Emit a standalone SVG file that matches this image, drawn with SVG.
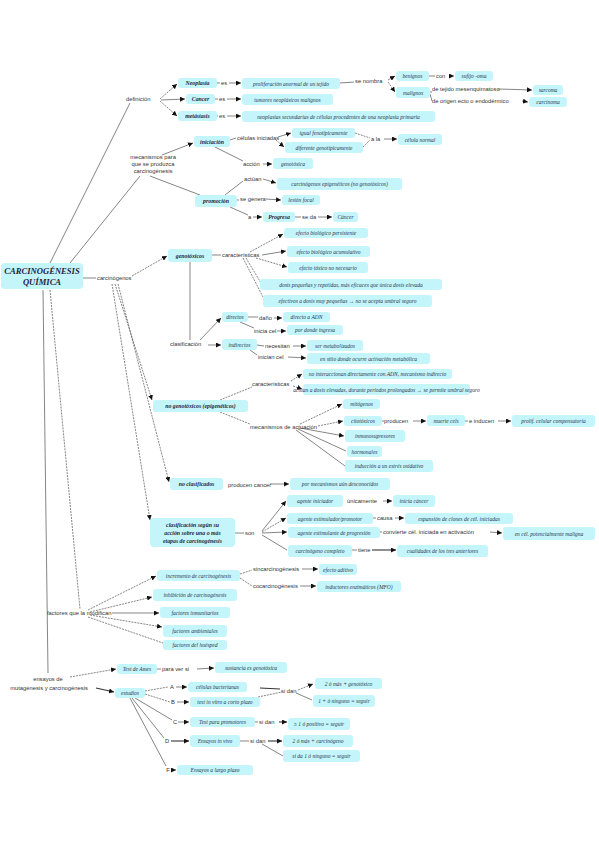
<svg xmlns="http://www.w3.org/2000/svg" width="599" height="848" viewBox="0 0 599 848">
<style>
.bg{fill:#ffffff}
.n rect{fill:#c4f5fb;stroke:none}
.t{font-family:"Liberation Serif",serif;font-style:italic;font-size:5.5px;fill:#2a3550;text-anchor:middle}
.b{font-family:"Liberation Serif",serif;font-style:italic;font-weight:bold;font-size:5.8px;fill:#1d2540;text-anchor:middle}
.m{font-family:"Liberation Serif",serif;font-style:italic;font-weight:bold;font-size:8.6px;fill:#1d2540;text-anchor:middle}
.l{font-family:"Liberation Sans",sans-serif;font-size:5.8px;fill:#333}
.lc{font-family:"Liberation Sans",sans-serif;font-size:5.8px;fill:#333;text-anchor:middle}
.c path{fill:none;stroke:#333;stroke-width:0.6}
.c .d{stroke-dasharray:2 1}
.c .k{stroke-width:1.1}
</style>
<defs>
<marker id="a" viewBox="0 0 6 6" refX="6" refY="3" markerWidth="5" markerHeight="5" markerUnits="userSpaceOnUse" orient="auto"><path d="M0,0 L6,3 L0,6 z" fill="#111"/></marker>
</defs>
<rect class="bg" width="599" height="848"/>

<g id="connectors" class="c">
<path d="M50,263 L130,103"/>
<path d="M70,263 L140,176"/>
<path d="M83,278 L96,278"/>
<path class="d" d="M50,290 L80,609"/>
<path d="M43,290 L48,673"/>
<path class="d" d="M160,99 L177,84" marker-end="url(#a)"/>
<path d="M161,100 L185,99" marker-end="url(#a)"/>
<path class="d" d="M160,101 L177,116" marker-end="url(#a)"/>
<path d="M217,83 L220,83"/><path d="M229,83 L241,83" marker-end="url(#a)"/>
<path d="M215,99 L218,99"/><path d="M227,99 L241,99" marker-end="url(#a)"/>
<path d="M217,116 L218,116"/><path d="M227,116 L241,116" marker-end="url(#a)"/>
<path d="M340,83 L354,82"/>
<path d="M388,80 L395,76" marker-end="url(#a)"/>
<path class="d" d="M388,82 L395,92" marker-end="url(#a)"/>
<path d="M429,76 L435,76"/><path d="M449,76 L454,76" marker-end="url(#a)"/>
<path d="M430,92 L432,92"/><path d="M498,89 L532,90" marker-end="url(#a)"/>
<path d="M430,94 L432,101"/><path d="M522,101 L528,102" marker-end="url(#a)"/>
<path d="M162,155 L193,143" marker-end="url(#a)"/>
<path d="M230,140 L236,138"/>
<path d="M278,137 L291,133" marker-end="url(#a)"/>
<path class="d" d="M276,140 L284,147" marker-end="url(#a)"/>
<path class="d" d="M355,133 L370,138"/>
<path class="d" d="M363,147 L370,140"/>
<path d="M384,139 L397,139" marker-end="url(#a)"/>
<path d="M215,147 L243,161"/>
<path d="M263,164 L272,164" marker-end="url(#a)"/>
<path d="M150,176 L200,195"/>
<path d="M225,195 L243,181"/>
<path d="M263,179 L276,183" marker-end="url(#a)"/>
<path d="M237,200 L239,200"/><path d="M266,199 L281,200" marker-end="url(#a)"/>
<path d="M230,207 L248,215"/>
<path d="M253,217 L262,217" marker-end="url(#a)"/>
<path d="M295,217 L301,217"/><path d="M318,217 L332,217" marker-end="url(#a)"/>
<path class="d" d="M132,276 L167,256" marker-end="url(#a)"/>
<path class="d" d="M115,284 L152,400" marker-end="url(#a)"/>
<path class="d" d="M118,284 L169,482" marker-end="url(#a)"/>
<path class="d" d="M112,284 L150,520" marker-end="url(#a)"/>
<path d="M212,255 L221,255"/>
<path class="d" d="M250,252 L283,234" marker-end="url(#a)"/>
<path d="M262,255 L286,251" marker-end="url(#a)"/>
<path class="d" d="M256,258 L287,267" marker-end="url(#a)"/>
<path class="d" d="M246,258 L261,283"/>
<path class="d" d="M243,258 L264,299"/>
<path d="M190,262 L190,340"/>
<path d="M200,340 L221,318" marker-end="url(#a)"/>
<path d="M208,345 L221,345" marker-end="url(#a)"/>
<path d="M248,317 L258,317"/><path d="M274,318 L282,318" marker-end="url(#a)"/>
<path d="M240,322 L254,328"/><path d="M277,331 L286,331" marker-end="url(#a)"/>
<path d="M257,345 L264,346"/><path d="M293,346 L306,346" marker-end="url(#a)"/>
<path d="M250,350 L257,355"/><path d="M288,357 L306,358" marker-end="url(#a)"/>
<path class="d" d="M220,400 L252,387"/>
<path class="d" d="M291,381 L302,374" marker-end="url(#a)"/>
<path class="d" d="M293,386 L302,389" marker-end="url(#a)"/>
<path class="d" d="M220,412 L250,424"/>
<path class="d" d="M300,424 L342,404" marker-end="url(#a)"/>
<path class="d" d="M318,426 L343,421" marker-end="url(#a)"/>
<path d="M300,428 L344,436" marker-end="url(#a)"/>
<path d="M298,429 L346,451"/>
<path d="M296,430 L345,466"/>
<path d="M382,421 L384,421"/><path d="M413,421 L426,421" marker-end="url(#a)"/>
<path d="M465,421 L468,421"/><path d="M498,421 L511,421" marker-end="url(#a)"/>
<path d="M270,484 L289,484" marker-end="url(#a)"/>
<path d="M235,533 L244,533"/>
<path d="M262,531 L286,501" marker-end="url(#a)"/>
<path class="d" d="M262,532 L286,518" marker-end="url(#a)"/>
<path d="M262,533 L287,532" marker-end="url(#a)"/>
<path d="M262,535 L287,550"/>
<path d="M383,501 L392,501" marker-end="url(#a)"/>
<path d="M373,518 L376,518"/><path d="M395,518 L404,518" marker-end="url(#a)"/>
<path d="M380,532 L382,532"/><path d="M490,532 L502,533" marker-end="url(#a)"/>
<path d="M352,550 L357,550"/><path class="k" d="M372,550 L396,550" marker-end="url(#a)"/>
<path class="d" d="M88,610 L156,576" marker-end="url(#a)"/>
<path class="d" d="M90,612 L152,597" marker-end="url(#a)"/>
<path d="M112,613 L159,613" marker-end="url(#a)"/>
<path class="d" d="M90,615 L162,627" marker-end="url(#a)"/>
<path class="d" d="M88,617 L163,643"/>
<path class="d" d="M240,574 L252,570"/><path d="M302,569 L318,569" marker-end="url(#a)"/>
<path class="d" d="M240,578 L252,586"/><path d="M300,586 L316,586" marker-end="url(#a)"/>
<path class="d" d="M70,677 L116,669" marker-end="url(#a)"/>
<path d="M157,669 L161,669"/><path d="M197,669 L214,668" marker-end="url(#a)"/>
<path class="k" d="M96,688 L114,692" marker-end="url(#a)"/>
<path class="d" d="M145,691 L168,687"/><path d="M176,687 L187,687" marker-end="url(#a)"/>
<path class="d" d="M145,694 L170,702"/><path d="M177,702 L189,702" marker-end="url(#a)"/>
<path d="M135,698 L172,720"/><path d="M178,722 L189,722" marker-end="url(#a)"/>
<path d="M132,698 L164,738"/><path class="k" d="M171,741 L189,741" marker-end="url(#a)"/>
<path d="M130,698 L166,766"/><path d="M172,770 L176,770" marker-end="url(#a)"/>
<path class="k" d="M260,688 L280,689"/>
<path class="d" d="M258,697 L282,692"/>
<path class="d" d="M298,690 L313,684" marker-end="url(#a)"/>
<path d="M296,693 L312,700"/>
<path d="M255,722 L258,722"/><path class="k" d="M279,722 L287,722" marker-end="url(#a)"/>
<path d="M240,741 L249,741"/><path class="k" d="M268,741 L282,741" marker-end="url(#a)"/>
<path d="M262,744 L283,756"/>
</g>

<g id="labels">
<text class="l" x="126" y="101">definición</text>
<text class="lc" x="224" y="85">es</text>
<text class="lc" x="222" y="101">es</text>
<text class="lc" x="222" y="118">es</text>
<text class="l" x="355" y="83">se nombra</text>
<text class="l" x="436" y="78">con</text>
<text class="l" x="432" y="91">de tejido mesenquimatoso</text>
<text class="l" x="432" y="103">de origen ecto o endodérmico</text>
<text class="lc" x="153" y="159">mecanismos para</text>
<text class="lc" x="153" y="166">que se produzca</text>
<text class="lc" x="153" y="173">carcinogénesis</text>
<text class="l" x="237" y="140">células iniciadas</text>
<text class="l" x="371" y="141">a la</text>
<text class="l" x="243" y="166">acción</text>
<text class="l" x="244" y="181">actúan</text>
<text class="l" x="240" y="201">se genera</text>
<text class="l" x="248" y="219">a</text>
<text class="l" x="302" y="219">se da</text>
<text class="l" x="97" y="280">carcinógenos</text>
<text class="l" x="222" y="257">características</text>
<text class="l" x="170" y="346">clasificación</text>
<text class="l" x="259" y="320">daño</text>
<text class="l" x="254" y="333">inicia cel</text>
<text class="l" x="265" y="348">necesitan</text>
<text class="l" x="258" y="359">inician cel</text>
<text class="l" x="252" y="386">características</text>
<text class="l" x="250" y="429">mecanismos de actuación</text>
<text class="l" x="384" y="423">producen</text>
<text class="l" x="469" y="423">e inducen</text>
<text class="l" x="228" y="487">producen cancer</text>
<text class="l" x="245" y="535">son</text>
<text class="l" x="347" y="503">únicamente</text>
<text class="l" x="377" y="520">causa</text>
<text class="l" x="383" y="534">convierte cél. iniciada en activación</text>
<text class="l" x="358" y="552">tiene</text>
<text class="l" x="47" y="615">factores que la modifican</text>
<text class="l" x="253" y="571">sincarcinogénesis</text>
<text class="l" x="253" y="588">cocarcinogénesis</text>
<text class="lc" x="48" y="681">ensayos de</text>
<text class="lc" x="49" y="690">mutagénesis y carcinogénesis</text>
<text class="l" x="162" y="671">para ver si</text>
<text class="lc" x="172" y="689">A</text>
<text class="lc" x="173" y="704">B</text>
<text class="lc" x="175" y="724">C</text>
<text class="lc" x="167" y="743">D</text>
<text class="lc" x="168" y="772">F</text>
<text class="l" x="281" y="693">si dan</text>
<text class="l" x="259" y="724">si dan</text>
<text class="l" x="250" y="743">si dan</text>
</g>

<g id="main" class="n"><rect x="1" y="263" width="82" height="26" rx="4"/><text class="m" x="42" y="274">CARCINOGÉNESIS</text><text class="m" x="42" y="285">QUÍMICA</text></g>

<g id="n1" class="n"><rect x="178" y="78" width="39" height="10" rx="3"/><text class="b" x="197.5" y="85">Neoplasia</text></g>
<g id="n2" class="n"><rect x="242" y="78" width="98" height="11" rx="3"/><text class="t" x="291" y="85.5">proliferación anormal de un tejido</text></g>
<g id="n3" class="n"><rect x="186" y="94" width="29" height="10" rx="3"/><text class="b" x="200.5" y="101">Cancer</text></g>
<g id="n4" class="n"><rect x="242" y="94" width="91" height="11" rx="3"/><text class="t" x="287.5" y="101.5">tumores neoplásicos malignos</text></g>
<g id="n5" class="n"><rect x="178" y="111" width="39" height="10" rx="3"/><text class="b" x="197.5" y="118">metástasis</text></g>
<g id="n6" class="n"><rect x="242" y="111" width="193" height="11" rx="3"/><text class="t" x="338.5" y="118.5">neoplasias secundarias de células procedentes de una neoplasia primaria</text></g>
<g id="n7" class="n"><rect x="396" y="71" width="33" height="10" rx="3"/><text class="t" x="412.5" y="78">benignos</text></g>
<g id="n8" class="n"><rect x="455" y="71" width="38" height="10" rx="3"/><text class="t" x="474" y="78">sufijo -oma</text></g>
<g id="n9" class="n"><rect x="396" y="87" width="34" height="11" rx="3"/><text class="t" x="413" y="94.5">malignos</text></g>
<g id="n10" class="n"><rect x="533" y="85" width="30" height="10" rx="3"/><text class="t" x="548" y="92">sarcoma</text></g>
<g id="n11" class="n"><rect x="529" y="97" width="38" height="10" rx="3"/><text class="t" x="548" y="104">carcinoma</text></g>

<g id="n12" class="n"><rect x="194" y="136" width="36" height="11" rx="3"/><text class="b" x="212" y="143.5">iniciación</text></g>
<g id="n13" class="n"><rect x="292" y="128" width="63" height="10" rx="3"/><text class="t" x="323.5" y="135">igual fenotípicamente</text></g>
<g id="n14" class="n"><rect x="285" y="142" width="78" height="11" rx="3"/><text class="t" x="324" y="149.5">diferente genotípicamente</text></g>
<g id="n15" class="n"><rect x="398" y="134" width="44" height="11" rx="3"/><text class="t" x="420" y="141.5">célula normal</text></g>
<g id="n16" class="n"><rect x="273" y="158" width="40" height="11" rx="3"/><text class="t" x="293" y="165.5">genotóxica</text></g>
<g id="n17" class="n"><rect x="195" y="195" width="42" height="12" rx="3"/><text class="b" x="216" y="203">promoción</text></g>
<g id="n18" class="n"><rect x="277" y="178" width="125" height="12" rx="3"/><text class="t" x="339.5" y="186">carcinógenos epigenéticos (no genotóxicos)</text></g>
<g id="n19" class="n"><rect x="282" y="195" width="38" height="10" rx="3"/><text class="t" x="301" y="202">lesión focal</text></g>
<g id="n20" class="n"><rect x="263" y="212" width="32" height="10" rx="3"/><text class="b" x="279" y="219">Progresa</text></g>
<g id="n21" class="n"><rect x="333" y="212" width="25" height="10" rx="3"/><text class="t" x="345.5" y="219">Cáncer</text></g>

<g id="n22" class="n"><rect x="168" y="249" width="44" height="13" rx="3"/><text class="b" x="190" y="257.5">genotóxicos</text></g>
<g id="n23" class="n"><rect x="284" y="228" width="84" height="10" rx="3"/><text class="t" x="326" y="235">efecto biológico persistente</text></g>
<g id="n24" class="n"><rect x="287" y="246" width="83" height="11" rx="3"/><text class="t" x="328.5" y="253.5">efecto biológico acumulativo</text></g>
<g id="n25" class="n"><rect x="288" y="262" width="80" height="11" rx="3"/><text class="t" x="328" y="269.5">efecto tóxico no necesario</text></g>
<g id="n26" class="n"><rect x="260" y="279" width="182" height="11" rx="3"/><text class="t" x="351" y="286.5">dosis pequeñas y repetidas, más eficaces que única dosis elevada</text></g>
<g id="n27" class="n"><rect x="263" y="295" width="169" height="12" rx="3"/><text class="t" x="347.5" y="303">efectivos a dosis muy pequeñas → no se acepta umbral seguro</text></g>
<g id="n28" class="n"><rect x="222" y="312" width="26" height="10" rx="3"/><text class="t" x="235" y="319">directos</text></g>
<g id="n29" class="n"><rect x="222" y="339" width="35" height="11" rx="3"/><text class="t" x="239.5" y="346.5">indirectos</text></g>
<g id="n30" class="n"><rect x="283" y="312" width="47" height="10" rx="3"/><text class="t" x="306.5" y="319">directo a ADN</text></g>
<g id="n31" class="n"><rect x="287" y="325" width="56" height="10" rx="3"/><text class="t" x="315" y="332">por donde ingresa</text></g>
<g id="n32" class="n"><rect x="307" y="340" width="56" height="11" rx="3"/><text class="t" x="335" y="347.5">ser metabolizados</text></g>
<g id="n33" class="n"><rect x="307" y="353" width="123" height="11" rx="3"/><text class="t" x="368.5" y="360.5">en sitio donde ocurre activación metabólica</text></g>

<g id="n34" class="n"><rect x="153" y="400" width="95" height="12" rx="3"/><text class="b" x="200.5" y="408">no genotóxicos (epigenéticos)</text></g>
<g id="n35" class="n"><rect x="303" y="369" width="149" height="10" rx="3"/><text class="t" x="377.5" y="376">no interaccionan directamente con ADN, mecanismo indirecto</text></g>
<g id="n36" class="n"><rect x="303" y="384" width="167" height="11" rx="3"/><text class="t" x="386.5" y="391.5">actúan a dosis elevadas, durante períodos prolongados → se permite umbral seguro</text></g>
<g id="n37" class="n"><rect x="343" y="399" width="37" height="10" rx="3"/><text class="t" x="361.5" y="406">mitógenos</text></g>
<g id="n38" class="n"><rect x="344" y="416" width="38" height="10" rx="3"/><text class="t" x="363" y="423">citotóxicos</text></g>
<g id="n39" class="n"><rect x="427" y="415" width="38" height="11" rx="3"/><text class="t" x="446" y="422.5">muerte cels</text></g>
<g id="n40" class="n"><rect x="512" y="415" width="83" height="12" rx="3"/><text class="t" x="553.5" y="423">prolif. celular compensatoria</text></g>
<g id="n41" class="n"><rect x="345" y="430" width="60" height="12" rx="3"/><text class="t" x="375" y="438">inmunosupresores</text></g>
<g id="n42" class="n"><rect x="347" y="446" width="35" height="11" rx="3"/><text class="t" x="364.5" y="453.5">hormonales</text></g>
<g id="n43" class="n"><rect x="345" y="460" width="88" height="12" rx="3"/><text class="t" x="389" y="468">inducción a un estrés oxidativo</text></g>

<g id="n44" class="n"><rect x="170" y="478" width="53" height="12" rx="3"/><text class="b" x="196.5" y="486">no clasificados</text></g>
<g id="n45" class="n"><rect x="290" y="478" width="100" height="12" rx="3"/><text class="t" x="340" y="486">por mecanismos aún desconocidos</text></g>

<g id="n46" class="n"><rect x="150" y="518" width="85" height="29" rx="4"/><text class="b" x="192.5" y="527">clasificación según su</text><text class="b" x="192.5" y="535">acción sobre una o más</text><text class="b" x="192.5" y="543">etapas de carcinogénesis</text></g>
<g id="n47" class="n"><rect x="287" y="495" width="56" height="12" rx="3"/><text class="t" x="315" y="503">agente iniciador</text></g>
<g id="n48" class="n"><rect x="393" y="495" width="42" height="12" rx="3"/><text class="t" x="414" y="503">inicia cáncer</text></g>
<g id="n49" class="n"><rect x="287" y="513" width="86" height="11" rx="3"/><text class="t" x="330" y="520.5">agente estimulador/promotor</text></g>
<g id="n50" class="n"><rect x="405" y="513" width="108" height="11" rx="3"/><text class="t" x="459" y="520.5">expansión de clones de cél. iniciadas</text></g>
<g id="n51" class="n"><rect x="288" y="527" width="92" height="11" rx="3"/><text class="t" x="334" y="534.5">agente estimulante de progresión</text></g>
<g id="n52" class="n"><rect x="503" y="527" width="92" height="13" rx="3"/><text class="t" x="549" y="535.5">en cél. potencialmente maligna</text></g>
<g id="n53" class="n"><rect x="288" y="545" width="64" height="12" rx="3"/><text class="t" x="320" y="553">carcinógeno completo</text></g>
<g id="n54" class="n"><rect x="397" y="545" width="91" height="12" rx="3"/><text class="t" x="442.5" y="553">cualidades de los tres anteriores</text></g>

<g id="n55" class="n"><rect x="157" y="570" width="83" height="11" rx="3"/><text class="t" x="198.5" y="577.5">incremento de carcinogénesis</text></g>
<g id="n56" class="n"><rect x="319" y="564" width="38" height="11" rx="3"/><text class="t" x="338" y="571.5">efecto aditivo</text></g>
<g id="n57" class="n"><rect x="317" y="581" width="84" height="11" rx="3"/><text class="t" x="359" y="588.5">inductores enzimáticos (MFO)</text></g>
<g id="n58" class="n"><rect x="153" y="589" width="84" height="12" rx="3"/><text class="t" x="195" y="597">inhibición de carcinogénesis</text></g>
<g id="n59" class="n"><rect x="160" y="607" width="70" height="11" rx="3"/><text class="t" x="195" y="614.5">factores inmunitarios</text></g>
<g id="n60" class="n"><rect x="163" y="625" width="64" height="12" rx="3"/><text class="t" x="195" y="633">factores ambientales</text></g>
<g id="n61" class="n"><rect x="163" y="640" width="64" height="10" rx="3"/><text class="t" x="195" y="647">factores del huésped</text></g>

<g id="n62" class="n"><rect x="117" y="664" width="40" height="10" rx="3"/><text class="t" x="137" y="671">Test de Ames</text></g>
<g id="n63" class="n"><rect x="215" y="662" width="72" height="11" rx="3"/><text class="t" x="251" y="669.5">sustancia es genotóxica</text></g>
<g id="n64" class="n"><rect x="115" y="688" width="30" height="10" rx="3"/><text class="t" x="130" y="695">estudios</text></g>
<g id="n65" class="n"><rect x="188" y="682" width="59" height="10" rx="3"/><text class="t" x="217.5" y="689">células bacterianas</text></g>
<g id="n66" class="n"><rect x="190" y="697" width="70" height="10" rx="3"/><text class="t" x="225" y="704">test in vitro a corto plazo</text></g>
<g id="n67" class="n"><rect x="190" y="717" width="65" height="10" rx="3"/><text class="t" x="222.5" y="724">Test para promotores</text></g>
<g id="n68" class="n"><rect x="190" y="735" width="50" height="12" rx="3"/><text class="t" x="215" y="743">Ensayos in vivo</text></g>
<g id="n69" class="n"><rect x="177" y="765" width="76" height="10" rx="3"/><text class="t" x="215" y="772">Ensayos a largo plazo</text></g>
<g id="n70" class="n"><rect x="315" y="678" width="67" height="11" rx="3"/><text class="t" x="348.5" y="685.5">2 ó más + genotóxico</text></g>
<g id="n71" class="n"><rect x="313" y="695" width="62" height="12" rx="3"/><text class="t" x="344" y="703">1 + ó ninguno = seguir</text></g>
<g id="n72" class="n"><rect x="288" y="718" width="62" height="12" rx="3"/><text class="t" x="319" y="726">≥ 1 ó positivo = seguir</text></g>
<g id="n73" class="n"><rect x="283" y="735" width="70" height="12" rx="3"/><text class="t" x="318" y="743">2 ó más + carcinógeno</text></g>
<g id="n74" class="n"><rect x="283" y="750" width="77" height="12" rx="3"/><text class="t" x="321.5" y="758">si da 1 ó ninguno = seguir</text></g>
</svg>
